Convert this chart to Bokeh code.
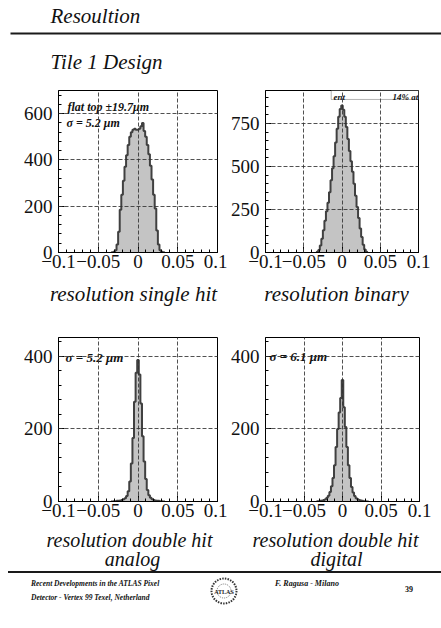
import numpy as np
from bokeh.plotting import figure
from bokeh.models import (Range1d, SingleIntervalTicker, Label, BoxAnnotation, Div,
                          ColumnDataSource)
from bokeh.layouts import column, row
from bokeh.embed import file_html
from bokeh.resources import INLINE

# ---------------- data ----------------
bin_width = 0.002
bin_centers = [round(-0.034 + i * bin_width, 3) for i in range(35)]

counts_single = [0, 1, 3, 10, 35, 90, 185, 250, 310, 370, 420, 465, 500, 520, 530,
                 535, 530, 530, 535, 545, 560, 525, 500, 465, 425, 375, 315, 250, 190, 95,
                 35, 10, 3, 1, 0]
counts_binary = [2, 5, 15, 40, 80, 130, 185, 240, 290, 350, 420, 490, 560, 640, 720,
                 790, 835, 855, 830, 790, 730, 660, 590, 530, 470, 400, 330, 265, 200, 140,
                 90, 45, 18, 5, 2]
counts_analog = [0, 0, 1, 1, 2, 2, 3, 4, 6, 9, 15, 28, 55, 105, 175,
                 275, 355, 390, 350, 270, 180, 110, 62, 32, 17, 10, 6, 4, 3, 2,
                 2, 1, 1, 0, 0]
counts_digital = [0, 1, 1, 2, 3, 4, 6, 10, 16, 26, 42, 65, 100, 150, 200,
                  245, 285, 335, 260, 205, 150, 100, 65, 40, 25, 15, 9, 6, 4, 3,
                  2, 1, 1, 0, 0]

x_tick_labels = {-0.1: "\u22120.1", -0.05: "\u22120.05", 0: "0", 0.05: "0.05", 0.1: "0.1"}

page_title = "Resoultion"
section_title = "Tile 1 Design"
subtitles = ["resolution single hit", "resolution binary",
             "resolution double hit", "resolution double hit"]
subtitles_2 = [None, None, "analog", "digital"]

SERIF = "Liberation Serif"


def make_panel(counts, ymax, ystep, width, height, bl, br, bt, bb):
    p = figure(width=width, height=height, x_range=Range1d(-0.1, 0.1), y_range=Range1d(0, ymax),
               output_backend="svg", toolbar_location=None,
               min_border_left=bl, min_border_right=br, min_border_top=bt, min_border_bottom=bb,
               background_fill_color="white", border_fill_color="white",
               outline_line_color="black", outline_line_width=1)
    src = ColumnDataSource(dict(x=bin_centers, top=counts))
    p.varea_step(x="x", y1=0, y2="top", source=src, step_mode="center",
                 fill_color="#c4c4c4")
    p.step(x="x", y="top", source=src, mode="center", line_color="#404040",
           line_width=2)

    p.xaxis.ticker = SingleIntervalTicker(interval=0.05, num_minor_ticks=5)
    p.yaxis.ticker = SingleIntervalTicker(interval=ystep, num_minor_ticks=5)
    p.xgrid.ticker = SingleIntervalTicker(interval=0.05)
    p.ygrid.ticker = SingleIntervalTicker(interval=ystep)
    for g in (p.xgrid[0], p.ygrid[0]):
        g.grid_line_color = "#333333"
        g.grid_line_dash = "4 2"
        g.grid_line_alpha = 0.85
        g.grid_line_width = 1
        g.level = "overlay"
    for ax in (p.xaxis[0], p.yaxis[0]):
        ax.major_tick_in = 6
        ax.major_tick_out = 0
        ax.minor_tick_in = 3
        ax.minor_tick_out = 0
        ax.axis_line_color = "black"
        ax.major_tick_line_color = "black"
        ax.minor_tick_line_color = "black"
        ax.major_label_text_font = SERIF
        ax.major_label_text_font_size = "19px"
        ax.major_label_text_color = "#111111"
    p.xaxis.major_label_overrides = x_tick_labels
    p.xaxis.major_label_standoff = 2
    p.yaxis.major_label_standoff = 6
    return p


def make_strip(height):
    s = figure(width=441, height=height, x_range=Range1d(0, 441), y_range=Range1d(height, 0),
               output_backend="svg", toolbar_location=None, x_axis_type=None, y_axis_type=None,
               min_border=0, min_border_left=0, min_border_right=0, min_border_top=0,
               min_border_bottom=0, outline_line_color=None,
               background_fill_color="white", border_fill_color="white")
    s.grid.visible = False
    return s


it_style = dict(text_font=SERIF, text_font_style="italic", text_font_size="21px",
                text_color="#111111", text_baseline="alphabetic")
it_style_b = dict(it_style, text_font_size="20px")

# header
header = make_strip(84)
header.add_layout(Label(x=50, y=15.5, text=page_title, **it_style))
header.add_layout(BoxAnnotation(left=10, right=441, top=32, bottom=34, fill_color="#1a1a1a",
                                fill_alpha=1, line_color=None))
header.add_layout(Label(x=50, y=61.5, text=section_title, **it_style))

# top row
f1 = make_panel(counts_single, 700, 200, 227, 193, 58, 10, 6, 25)
f2 = make_panel(counts_binary, 942, 250, 214, 193, 35, 23, 6, 25)
subs_top = make_strip(39)
subs_top.add_layout(Label(x=133, y=16, text=subtitles[0], text_align="center", **it_style))
subs_top.add_layout(Label(x=336, y=16, text=subtitles[1], text_align="center", **it_style))

# bottom row
f3 = make_panel(counts_analog, 452, 200, 227, 210, 58, 10, 21, 25)
f4 = make_panel(counts_digital, 452, 200, 214, 210, 36, 22, 21, 25)
subs_bot = make_strip(45)
subs_bot.add_layout(Label(x=129, y=13, text=subtitles[2], text_align="center", **it_style_b))
subs_bot.add_layout(Label(x=132, y=32, text=subtitles_2[2], text_align="center", **it_style_b))
subs_bot.add_layout(Label(x=335, y=13, text=subtitles[3], text_align="center", **it_style_b))
subs_bot.add_layout(Label(x=336, y=32, text=subtitles_2[3], text_align="center", **it_style_b))

stat_font = dict(text_font=SERIF, text_font_style="bold italic", text_color="#111111",
                 text_baseline="alphabetic")
f1.add_layout(Label(x=-0.0887, y=629, text="flat top \u00b119.7\u03bcm", text_font_size="12px", **stat_font))
f1.add_layout(Label(x=-0.0900, y=560, text="\u03c3 =  5.2 \u03bcm", text_font_size="12px", **stat_font))
f2.add_layout(BoxAnnotation(left=-0.0141, right=0.1, bottom=890, top=942,
                            fill_color="white", fill_alpha=1, line_color="black", line_width=1))
f2.add_layout(Label(x=-0.011, y=902, text="ent", text_font_size="9px", **stat_font))
f2.add_layout(Label(x=0.066, y=902, text="14% at", text_font_size="9px", **stat_font))
f3.add_layout(Label(x=-0.0912, y=397, text="\u03c3 = 5.2 \u03bcm", text_font_size="13px", **stat_font))
f4.add_layout(Label(x=-0.0949, y=400, text="\u03c3 = 6.1 \u03bcm", text_font_size="13px", **stat_font))

FF = "font-family:Liberation Serif, Times, serif;"
footer_html = (
    '<div style="position:relative;width:441px;height:57px;' + FF + 'color:#111;">'
    '<div style="position:absolute;left:8px;top:0px;width:433px;height:2px;background:#1a1a1a;"></div>'
    '<div style="position:absolute;left:31px;top:6px;font-size:7.5px;line-height:14px;font-weight:bold;'
    'font-style:italic;white-space:nowrap;">Recent Developments in the ATLAS Pixel<br>'
    'Detector - Vertex 99 Texel, Netherland</div>'
    '<svg style="position:absolute;left:209px;top:5px" width="30" height="30">'
    '<circle cx="15" cy="15" r="12.5" fill="none" stroke="#333" stroke-width="2" stroke-dasharray="1.5 1.2"/>'
    '<circle cx="15" cy="15" r="7" fill="none" stroke="#777" stroke-width="1" stroke-dasharray="1 1"/>'
    '<text x="15" y="18" font-size="6" font-family="Liberation Sans" font-weight="bold" text-anchor="middle" fill="#222">ATLAS</text>'
    '</svg>'
    '<div style="position:absolute;left:275px;top:6px;font-size:8px;line-height:14px;font-weight:bold;'
    'font-style:italic;white-space:nowrap;">F. Ragusa - Milano</div>'
    '<div style="position:absolute;left:405px;top:12px;font-size:8px;line-height:14px;font-weight:bold;">39</div>'
    '</div>'
)
footer = Div(text=footer_html, width=441, height=57, margin=(0, 0, 0, 0))

layout = column(header, row(f1, f2, spacing=0), subs_top, row(f3, f4, spacing=0), subs_bot,
                footer, spacing=0)

open("out.html", "w").write(file_html(layout, INLINE))
